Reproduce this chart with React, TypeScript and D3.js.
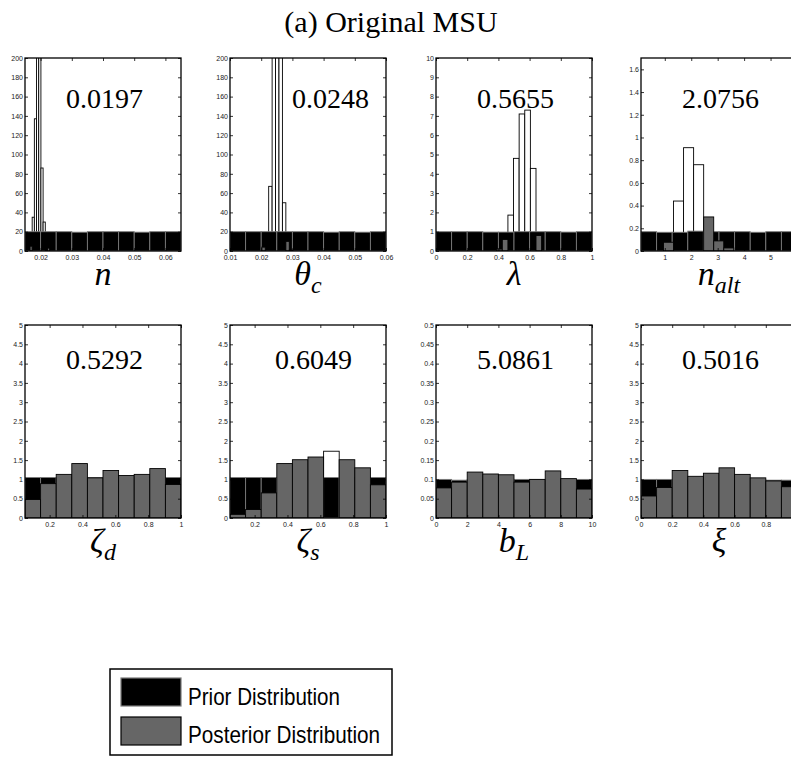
import React, { useRef, useEffect } from 'react';
import * as d3 from 'd3';

// --- chart values ---
const titleText = '(a) Original MSU';
const symbols = ['n', 'θ', 'λ', 'n', 'ζ', 'ζ', 'b', 'ξ'];
const subscripts = ['', 'c', '', 'alt', 'd', 's', 'L', ''];
const meanLabels = ['0.0197', '0.0248', '0.5655', '2.0756', '0.5292', '0.6049', '5.0861', '0.5016'];

const xDomains = [[0.015, 0.065], [0.01, 0.06], [0, 1], [0.1, 6], [0.05, 1], [0.05, 1], [0, 10], [0, 1]];
const yDomains = [[0, 200], [0, 200], [0, 10], [0, 1.7], [0, 5], [0, 5], [0, 0.5], [0, 5]];

const xTickValues = [
    [0.02, 0.03, 0.04, 0.05, 0.06],
    [0.01, 0.02, 0.03, 0.04, 0.05, 0.06],
    [0, 0.2, 0.4, 0.6, 0.8, 1],
    [1, 2, 3, 4, 5, 6],
    [0.2, 0.4, 0.6, 0.8, 1],
    [0.2, 0.4, 0.6, 0.8, 1],
    [0, 2, 4, 6, 8, 10],
    [0, 0.2, 0.4, 0.6, 0.8, 1],
];
const ticks200 = [0, 20, 40, 60, 80, 100, 120, 140, 160, 180, 200];
const ticks10 = [0, 1, 2, 3, 4, 5, 6, 7, 8, 9, 10];
const ticks16 = [0, 0.2, 0.4, 0.6, 0.8, 1, 1.2, 1.4, 1.6];
const ticks5 = [0, 0.5, 1, 1.5, 2, 2.5, 3, 3.5, 4, 4.5, 5];
const ticks05 = [0, 0.05, 0.1, 0.15, 0.2, 0.25, 0.3, 0.35, 0.4, 0.45, 0.5];
const yTickValues = [ticks200, ticks200, ticks10, ticks16, ticks5, ticks5, ticks05, ticks5];

// prior histogram: 10 bins spread over the x domain
const priorHeights = [
    [20, 20, 20, 19.5, 20, 20, 20, 19.5, 20, 20],
    [20, 20, 20, 20, 20, 20, 19.5, 20, 19.5, 20],
    [1, 1, 1, 0.98, 0.98, 1, 1, 1, 0.98, 1],
    [0.17, 0.165, 0.165, 0.175, 0.17, 0.17, 0.17, 0.165, 0.17, 0.17],
    [1.05, 1.05, 1.05, 1.05, 1.05, 1.05, 1.05, 1.05, 1.05, 1.05],
    [1.05, 1.05, 1.05, 1.05, 1.05, 1.05, 1.05, 1.05, 1.05, 1.05],
    [0.1, 0.098, 0.1, 0.1, 0.1, 0.1, 0.1, 0.1, 0.1, 0.1],
    [1, 1, 1, 1, 1, 1, 1, 1, 0.98, 0.98],
];

// posterior histogram: first bin edge, bin width, heights
const posteriorStart = [0.0166, 0.0202, 0.389, 0.95, 0.05, 0.05, 0, 0];
const posteriorWidth = [0.0007, 0.0011, 0.036, 0.38, 0.095, 0.095, 1, 0.1];
const posteriorHeights = [
    [5, 35, 137, 520, 611, 86, 30, 1, 3],
    [4, 0, 67, 240, 290, 247, 50, 10, 1],
    [0.1, 0.6, 1.86, 4.8, 7.1, 7.3, 4.28, 0.8],
    [0.077, 0.44, 0.91, 0.76, 0.3, 0.089, 0.027],
    [0.48, 0.89, 1.13, 1.41, 1.04, 1.23, 1.1, 1.13, 1.28, 0.87],
    [0.095, 0.22, 0.65, 1.41, 1.51, 1.58, 1.73, 1.51, 1.3, 0.86],
    [0.078, 0.093, 0.119, 0.114, 0.112, 0.093, 0.1, 0.122, 0.102, 0.075],
    [0.57, 0.79, 1.23, 1.08, 1.16, 1.3, 1.13, 1.04, 0.96, 0.81],
];
// bins that render as empty outlines behind the prior
const hollowBins = [[1, 2, 3, 4, 5, 6], [2, 3, 4, 5, 6], [2, 3, 4, 5, 6], [1, 2, 3], [], [6], [], []];

const legendLabels = ['Prior Distribution', 'Posterior Distribution'];

// --- layout ---
const colLeft = [25, 230, 436, 641];
const rowTop = [58, 325];
const plotW = 156;
const plotH = 193;
const labelInset = [41, 62, 41, 41, 41, 45, 41, 41];
const labelBaseline = [50, 44];

const App = () => {
    const ref = useRef(null);

    useEffect(() => {
        const svg = d3.select(ref.current);
        svg.selectAll('*').remove();

        svg.append('text')
            .attr('x', 391)
            .attr('y', 32)
            .attr('text-anchor', 'middle')
            .attr('font-family', "'Liberation Serif', serif")
            .attr('font-size', 30)
            .text(titleText);

        const fmt = d3.format('~g');

        symbols.forEach((sym, i) => {
            const col = i % 4;
            const row = Math.floor(i / 4);
            const g = svg.append('g').attr('transform', `translate(${colLeft[col]},${rowTop[row]})`);

            const x = d3.scaleLinear().domain(xDomains[i]).range([0, plotW]);
            const y = d3.scaleLinear().domain(yDomains[i]).range([plotH, 0]);

            g.append('clipPath').attr('id', `clip${i}`)
                .append('rect').attr('width', plotW).attr('height', plotH);
            const bars = g.append('g').attr('clip-path', `url(#clip${i})`);

            const [d0, d1] = xDomains[i];
            const step = (d1 - d0) / priorHeights[i].length;
            const prior = priorHeights[i].map((v, k) => ({ x0: d0 + k * step, x1: d0 + (k + 1) * step, v }));
            const post = posteriorHeights[i].map((v, k) => ({
                x0: posteriorStart[i] + k * posteriorWidth[i],
                x1: posteriorStart[i] + (k + 1) * posteriorWidth[i],
                v,
                hollow: hollowBins[i].includes(k),
            })).filter(d => d.v > 0);

            const drawBars = (cls, data, fill, stroke) => {
                bars.selectAll(`rect.${cls}`)
                    .data(data)
                    .join('rect')
                    .attr('class', cls)
                    .attr('x', d => x(d.x0))
                    .attr('width', d => x(d.x1) - x(d.x0))
                    .attr('y', d => y(d.v))
                    .attr('height', d => y(0) - y(d.v))
                    .attr('fill', fill)
                    .attr('stroke', stroke)
                    .attr('stroke-width', 0.9);
            };
            drawBars('hollow', post.filter(d => d.hollow), '#ffffff', '#000000');
            drawBars('prior', prior, '#000000', '#7a7a7a');
            drawBars('post', post.filter(d => !d.hollow), '#666666', '#000000');

            // axes, ticks pointing inward on all four sides
            const styleAxis = sel => {
                sel.select('.domain').remove();
                sel.selectAll('.tick line').attr('stroke', '#000').attr('stroke-width', 0.8);
                sel.selectAll('.tick text')
                    .attr('fill', '#222')
                    .attr('font-family', "'Liberation Sans', Arial, sans-serif")
                    .attr('font-size', 7);
            };
            g.append('g').attr('transform', `translate(0,${plotH})`)
                .call(d3.axisBottom(x).tickValues(xTickValues[i]).tickSizeInner(-3).tickSizeOuter(0).tickPadding(4).tickFormat(fmt))
                .call(styleAxis);
            g.append('g')
                .call(d3.axisTop(x).tickValues(xTickValues[i]).tickSizeInner(-3).tickSizeOuter(0).tickFormat(''))
                .call(styleAxis);
            g.append('g')
                .call(d3.axisLeft(y).tickValues(yTickValues[i]).tickSizeInner(-3).tickSizeOuter(0).tickPadding(2).tickFormat(fmt))
                .call(styleAxis);
            g.append('g').attr('transform', `translate(${plotW},0)`)
                .call(d3.axisRight(y).tickValues(yTickValues[i]).tickSizeInner(-3).tickSizeOuter(0).tickFormat(''))
                .call(styleAxis);

            g.append('rect')
                .attr('width', plotW)
                .attr('height', plotH)
                .attr('fill', 'none')
                .attr('stroke', '#000')
                .attr('stroke-width', 1.3);

            // posterior mean
            g.append('text')
                .attr('x', labelInset[i])
                .attr('y', labelBaseline[row])
                .attr('font-family', "'Liberation Serif', serif")
                .attr('font-size', 28)
                .text(meanLabels[i]);

            // parameter symbol
            const lab = g.append('text')
                .attr('x', plotW / 2)
                .attr('y', plotH + 34)
                .attr('text-anchor', 'middle')
                .attr('font-family', "'Liberation Serif', 'DejaVu Serif', serif")
                .attr('font-style', 'italic')
                .attr('font-size', 34);
            lab.append('tspan').text(sym);
            if (subscripts[i]) {
                lab.append('tspan').attr('font-size', 24).attr('dy', 8).text(subscripts[i]);
            }
        });

        // legend
        const lg = svg.append('g').attr('transform', 'translate(110,669)');
        lg.append('rect').attr('width', 282).attr('height', 86)
            .attr('fill', '#fff').attr('stroke', '#000').attr('stroke-width', 1.5);
        const swatchFill = ['#000000', '#666666'];
        const swatchStroke = ['#7a7a7a', '#000000'];
        legendLabels.forEach((label, k) => {
            lg.append('rect')
                .attr('x', 11).attr('y', 9 + k * 39)
                .attr('width', 60).attr('height', 28)
                .attr('fill', swatchFill[k]).attr('stroke', swatchStroke[k]).attr('stroke-width', 1.2);
            lg.append('text')
                .attr('x', 78).attr('y', 36 + k * 38)
                .attr('font-family', "'Liberation Sans', Arial, sans-serif")
                .attr('font-size', 24)
                .attr('textLength', k === 0 ? 152 : 192)
                .attr('lengthAdjust', 'spacingAndGlyphs')
                .text(label);
        });
    }, []);

    return (
        <div>
            <style>{'body { margin: 0; overflow: hidden; }'}</style>
            <svg ref={ref} width={791} height={757} style={{ display: 'block', background: '#fff' }}></svg>
        </div>
    );
};

export default App;
